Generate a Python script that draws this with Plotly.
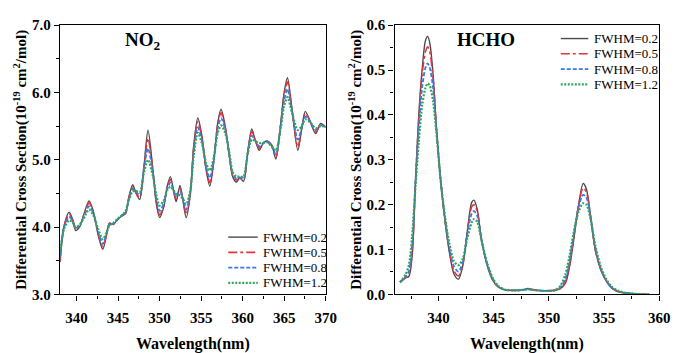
import plotly.graph_objects as go

# ---------------- data ----------------
labels = ["FWHM=0.2", "FWHM=0.5", "FWHM=0.8", "FWHM=1.2"]

no2_wl = [338.0, 338.5, 339.1, 339.5, 339.9, 340.4, 340.9, 341.5, 342.0, 342.6, 343.15, 343.6, 343.95,
          344.4, 345.0, 345.5, 345.9, 346.3, 346.75, 347.1, 347.6, 348.1, 348.6, 349.2, 349.6, 350.0,
          350.5, 350.9, 351.3, 351.7, 352.0, 352.45, 352.8, 353.2, 353.7, 354.1, 354.6, 355.1, 355.6,
          356.05, 356.5, 357.0, 357.4, 357.9, 358.4, 358.8, 359.25, 359.65, 360.1, 360.6, 361.1, 361.5,
          362.0, 362.5, 362.9, 363.5, 364.0, 364.6, 365.0, 365.4, 365.9, 366.65, 367.1, 367.55, 368.1,
          368.8, 369.4, 370.0]

no2_f02 = [3.48, 4.02, 4.22, 4.12, 3.95, 4.01, 4.20, 4.39, 4.24, 3.88, 3.67, 3.88, 4.06,
           4.04, 4.12, 4.17, 4.20, 4.45, 4.63, 4.52, 4.41, 4.88, 5.44, 4.84, 4.35, 4.14,
           4.30, 4.60, 4.75, 4.52, 4.38, 4.62, 4.40, 4.14, 4.50, 5.20, 5.62, 5.35, 4.85,
           4.61, 4.95, 5.55, 5.75, 5.50, 5.05, 4.75, 4.67, 4.73, 4.68, 5.10, 5.46, 5.30,
           5.14, 5.25, 5.28, 5.22, 5.01, 5.55, 6.00, 6.22, 5.80, 5.14, 5.45, 5.72, 5.58,
           5.39, 5.54, 5.48]
no2_f05 = [3.50, 4.02, 4.19, 4.12, 3.97, 4.02, 4.19, 4.36, 4.23, 3.90, 3.71, 3.89, 4.05,
           4.04, 4.12, 4.17, 4.21, 4.44, 4.60, 4.52, 4.44, 4.88, 5.32, 4.82, 4.38, 4.18,
           4.32, 4.58, 4.71, 4.53, 4.42, 4.58, 4.41, 4.19, 4.50, 5.17, 5.57, 5.32, 4.87,
           4.66, 4.96, 5.52, 5.70, 5.48, 5.06, 4.77, 4.70, 4.73, 4.70, 5.10, 5.42, 5.30,
           5.17, 5.25, 5.28, 5.21, 5.04, 5.55, 5.96, 6.16, 5.78, 5.19, 5.45, 5.69, 5.58,
           5.41, 5.53, 5.49]
no2_f08 = [3.55, 4.00, 4.15, 4.10, 3.99, 4.03, 4.17, 4.31, 4.21, 3.93, 3.75, 3.90, 4.04,
           4.05, 4.12, 4.18, 4.22, 4.42, 4.57, 4.53, 4.48, 4.86, 5.17, 4.80, 4.42, 4.24,
           4.35, 4.56, 4.66, 4.54, 4.46, 4.53, 4.43, 4.26, 4.52, 5.12, 5.48, 5.28, 4.90,
           4.73, 4.98, 5.47, 5.62, 5.45, 5.08, 4.79, 4.72, 4.74, 4.72, 5.10, 5.36, 5.29,
           5.20, 5.25, 5.27, 5.20, 5.08, 5.52, 5.88, 6.05, 5.75, 5.30, 5.46, 5.64, 5.57,
           5.44, 5.51, 5.49]
no2_f12 = [3.62, 3.98, 4.10, 4.07, 4.00, 4.04, 4.14, 4.26, 4.18, 3.97, 3.82, 3.92, 4.02,
           4.06, 4.13, 4.18, 4.24, 4.40, 4.53, 4.54, 4.52, 4.80, 5.00, 4.75, 4.48, 4.32,
           4.40, 4.54, 4.60, 4.54, 4.49, 4.47, 4.42, 4.34, 4.55, 5.05, 5.40, 5.24, 4.95,
           4.84, 5.02, 5.40, 5.51, 5.40, 5.10, 4.82, 4.75, 4.75, 4.75, 5.08, 5.30, 5.28,
           5.25, 5.25, 5.26, 5.20, 5.14, 5.48, 5.80, 5.93, 5.72, 5.44, 5.50, 5.60, 5.56,
           5.47, 5.50, 5.49]

hcho_wl = [336.5, 337.0, 337.3, 337.6, 337.9, 338.2, 338.5, 338.8, 339.0, 339.2, 339.5, 339.8,
           340.2, 340.6, 341.0, 341.4, 341.8, 342.2, 342.6, 343.0, 343.2, 343.5, 343.9, 344.4,
           344.9, 345.4, 346.0, 347.0, 347.6, 348.1, 348.6, 349.5, 350.5, 351.0, 351.5, 351.9,
           352.3, 352.7, 353.1, 353.4, 353.8, 354.2, 354.7, 355.2, 355.7, 356.3, 357.0, 358.0, 359.1]

hcho_f02 = [0.027, 0.037, 0.040, 0.085, 0.25, 0.40, 0.50, 0.565, 0.575, 0.56, 0.49, 0.37,
            0.25, 0.16, 0.09, 0.045, 0.034, 0.065, 0.14, 0.205, 0.21, 0.19, 0.12, 0.065,
            0.032, 0.017, 0.010, 0.009, 0.010, 0.013, 0.010, 0.008, 0.009, 0.012, 0.025, 0.065,
            0.13, 0.20, 0.247, 0.235, 0.17, 0.10, 0.055, 0.030, 0.014, 0.006, 0.003, 0.001, 0.0]
hcho_f05 = [0.027, 0.038, 0.045, 0.095, 0.25, 0.39, 0.49, 0.54, 0.552, 0.54, 0.48, 0.37,
            0.25, 0.16, 0.095, 0.052, 0.041, 0.068, 0.14, 0.195, 0.20, 0.185, 0.12, 0.066,
            0.033, 0.017, 0.010, 0.009, 0.010, 0.012, 0.010, 0.008, 0.009, 0.013, 0.028, 0.07,
            0.135, 0.20, 0.237, 0.228, 0.17, 0.10, 0.056, 0.030, 0.015, 0.006, 0.003, 0.001, 0.0]
hcho_f08 = [0.027, 0.040, 0.052, 0.11, 0.25, 0.37, 0.46, 0.505, 0.515, 0.505, 0.46, 0.37,
            0.25, 0.165, 0.10, 0.062, 0.051, 0.072, 0.135, 0.18, 0.186, 0.175, 0.12, 0.068,
            0.035, 0.018, 0.010, 0.009, 0.010, 0.012, 0.010, 0.008, 0.009, 0.015, 0.035, 0.08,
            0.14, 0.195, 0.222, 0.216, 0.17, 0.105, 0.058, 0.031, 0.015, 0.007, 0.003, 0.001, 0.0]
hcho_f12 = [0.027, 0.045, 0.065, 0.13, 0.24, 0.34, 0.42, 0.46, 0.47, 0.465, 0.43, 0.36,
            0.25, 0.17, 0.11, 0.074, 0.065, 0.08, 0.125, 0.16, 0.168, 0.162, 0.12, 0.07,
            0.037, 0.019, 0.011, 0.009, 0.010, 0.011, 0.010, 0.008, 0.009, 0.018, 0.045, 0.09,
            0.145, 0.185, 0.203, 0.20, 0.165, 0.11, 0.062, 0.034, 0.017, 0.008, 0.003, 0.001, 0.0]

# ---------------- styles ----------------
colors = ["#4a4a4a", "#e8323a", "#3a78e6", "#2ea65a"]
dashes = ["solid", "dashdot", "4px,2px", "2px,1.5px"]
widths = [1.4, 1.6, 1.8, 2.2]
FONT = "Liberation Serif"
W, H = 680, 353

fig = go.Figure()
no2_series = [no2_f02, no2_f05, no2_f08, no2_f12]
hcho_series = [hcho_f02, hcho_f05, hcho_f08, hcho_f12]
for i in range(4):
    fig.add_trace(go.Scatter(x=no2_wl, y=no2_series[i], mode="lines", name=labels[i],
                             line=dict(color=colors[i], dash=dashes[i], width=widths[i],
                                       shape="spline", smoothing=0.8),
                             xaxis="x", yaxis="y", showlegend=False))
for i in range(4):
    fig.add_trace(go.Scatter(x=hcho_wl, y=hcho_series[i], mode="lines", name=labels[i],
                             line=dict(color=colors[i], dash=dashes[i], width=widths[i],
                                       shape="spline", smoothing=0.8),
                             xaxis="x2", yaxis="y2", showlegend=False))

axis_common = dict(showline=True, linecolor="black", linewidth=1.3, mirror=True,
                   ticks="outside", ticklen=5, tickwidth=1.2, tickcolor="black",
                   showgrid=False, zeroline=False,
                   tickprefix="<b>", ticksuffix="</b>",
                   tickfont=dict(family=FONT, size=15, color="black"))
ytitle = "<b>Differential Cross Section(10<sup>-19</sup> cm<sup>2</sup>/mol)</b>"
xtitle = "<b>Wavelength(nm)</b>"
xtfont = dict(family=FONT, size=16, color="black")
ytfont = dict(family=FONT, size=15, color="black")

fig.update_layout(
    width=W, height=H,
    margin=dict(l=0, r=0, t=0, b=0),
    paper_bgcolor="white", plot_bgcolor="white",
    xaxis=dict(domain=[61/W, 331/W], range=[338, 370], tick0=340, dtick=5,
               minor=dict(ticks="outside", ticklen=3, dtick=2.5, tick0=340, tickcolor="black"),
               ticklabelstandoff=4,
               title=dict(text=xtitle, font=xtfont, standoff=14), anchor="y", **axis_common),
    yaxis=dict(domain=[1-300/H, 1-18/H], range=[3, 7], dtick=1, tickformat=".1f",
               minor=dict(ticks="outside", ticklen=3, dtick=0.5, tickcolor="black"),
               title=dict(text=ytitle, font=ytfont, standoff=1),
               anchor="x", **axis_common),
    xaxis2=dict(domain=[401/W, 670/W], range=[336, 360], tick0=340, dtick=5,
                minor=dict(ticks="outside", ticklen=3, dtick=2.5, tick0=340, tickcolor="black"),
                ticklabelstandoff=4,
                title=dict(text=xtitle, font=xtfont, standoff=14), anchor="y2", **axis_common),
    yaxis2=dict(domain=[1-300/H, 1-18/H], range=[0, 0.6], dtick=0.1, tickformat=".1f",
                minor=dict(ticks="outside", ticklen=3, dtick=0.05, tickcolor="black"),
                title=dict(text=ytitle, font=ytfont, standoff=1),
                anchor="x2", **axis_common),
)

annotations = [
    dict(text="<b>NO<sub>2</sub></b>", x=145/W, y=1-35/H, xref="paper", yref="paper",
         xanchor="center", yanchor="middle",
         showarrow=False, font=dict(family=FONT, size=19, color="black")),
    dict(text="<b>HCHO</b>", x=494/W, y=1-33/H, xref="paper", yref="paper",
         xanchor="center", yanchor="middle",
         showarrow=False, font=dict(family=FONT, size=19, color="black")),
]
shapes = []
# legend boxes (left panel and right panel): (line x0, line x1, text x, first row y, row step)
legend_specs = [(232, 262, 265, 240, 16), (570, 598, 602, 32, 16)]
for lx0, lx1, tx, y0, step in legend_specs:
    for i in range(4):
        yy = y0 + i * step
        shapes.append(dict(type="line", xref="paper", yref="paper",
                           x0=lx0/W, x1=lx1/W, y0=1-yy/H, y1=1-yy/H,
                           line=dict(color=colors[i], dash=dashes[i], width=widths[i])))
        annotations.append(dict(text=labels[i], x=tx/W, y=1-yy/H, xref="paper", yref="paper",
                                xanchor="left", yanchor="middle", showarrow=False,
                                font=dict(family=FONT, size=13, color="black")))
fig.update_layout(annotations=annotations, shapes=shapes)

fig.write_html("out.html")
